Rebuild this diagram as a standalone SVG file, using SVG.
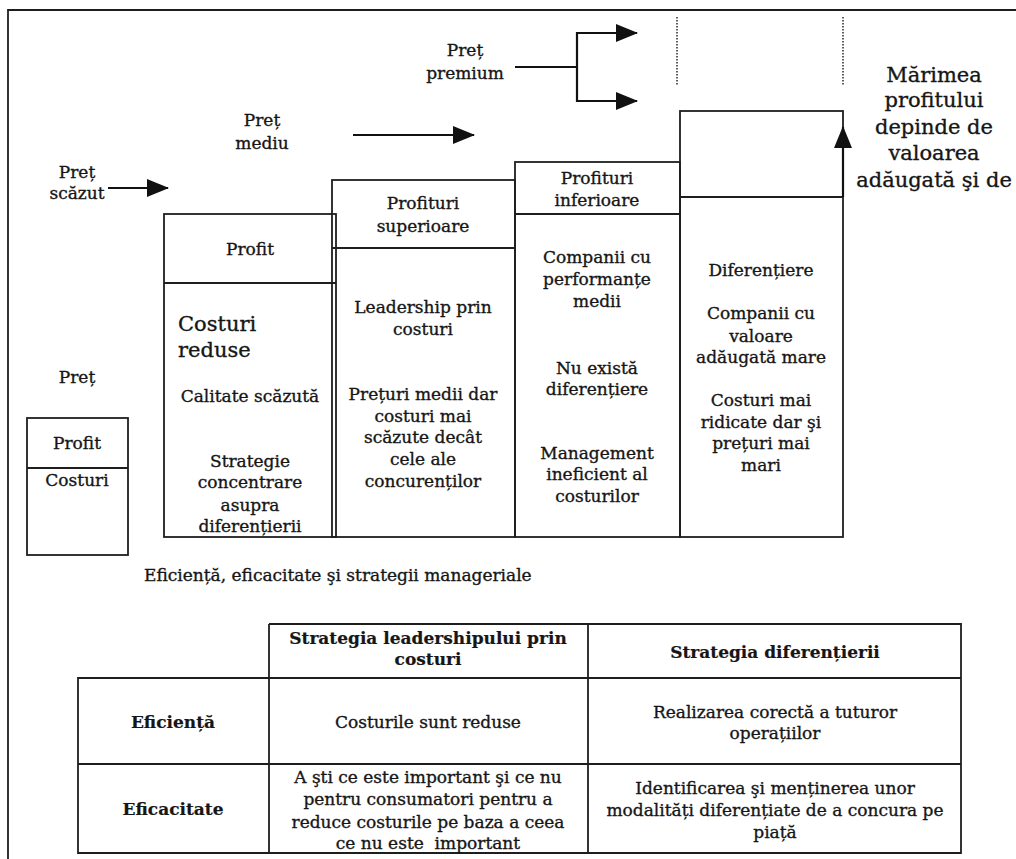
<svg xmlns="http://www.w3.org/2000/svg" width="1016" height="859" viewBox="0 0 1016 859">
  <style>
    .t { font-family: "DejaVu Serif", "Liberation Serif", serif; font-size: 17px; fill: #161616; stroke: #161616; stroke-width: 0.35; text-anchor: middle; }
    .big { font-size: 21px; }
    .cap { text-anchor: start; }
    .b { font-weight: bold; stroke-width: 0.2; }
    .box { fill: none; stroke: #1e1e1e; stroke-width: 1.8; }
    .ln { fill: none; stroke: #1e1e1e; stroke-width: 1.8; }
    .arr { fill: none; stroke: #111; stroke-width: 2.2; }
    .dot { fill: none; stroke: #333; stroke-width: 1.6; stroke-dasharray: 1.5 1.5; }
  </style>
  <defs>
    <marker id="head" markerUnits="userSpaceOnUse" markerWidth="24" markerHeight="20" refX="21" refY="9" orient="auto">
      <path d="M0,0 L22,9 L0,18 Z" fill="#111"/>
    </marker>
  </defs>

  <rect width="1016" height="859" fill="#fff"/>

  <!-- page frame -->
  <path class="ln" d="M8,859 V10 H1016"/>

  <!-- price levels -->
  <g id="pret-scazut">
    <text class="t" x="77" y="178">Preț</text>
    <text class="t" x="77" y="199">scăzut</text>
  </g>
  <g id="pret-mediu">
    <text class="t" x="262" y="126">Preț</text>
    <text class="t" x="262" y="149">mediu</text>
  </g>
  <g id="pret-premium">
    <text class="t" x="465" y="56">Preț</text>
    <text class="t" x="465" y="79">premium</text>
  </g>

  <!-- bar: low cost -->
  <g id="col-low">
    <rect class="box" x="164" y="214" width="172" height="323"/>
    <line class="ln" x1="164" y1="283" x2="336" y2="283"/>
    <text class="t" x="250" y="255">Profit</text>
    <text class="t big" x="178" y="331" style="text-anchor:start">Costuri</text>
    <text class="t big" x="178" y="357" style="text-anchor:start">reduse</text>
    <text class="t" x="250" y="402">Calitate scăzută</text>
    <text class="t" x="250" y="467">Strategie</text>
    <text class="t" x="250" y="488">concentrare</text>
    <text class="t" x="250" y="511">asupra</text>
    <text class="t" x="250" y="532">diferențierii</text>
  </g>

  <!-- bar: cost leadership -->
  <g id="col-avg">
    <rect class="box" x="332" y="180" width="183" height="357"/>
    <line class="ln" x1="332" y1="248" x2="515" y2="248"/>
    <text class="t" x="423" y="209">Profituri</text>
    <text class="t" x="423" y="232">superioare</text>
    <text class="t" x="423" y="313">Leadership prin</text>
    <text class="t" x="423" y="335">costuri</text>
    <text class="t" x="423" y="400">Prețuri medii dar</text>
    <text class="t" x="423" y="422">costuri mai</text>
    <text class="t" x="423" y="443">scăzute decât</text>
    <text class="t" x="423" y="465">cele ale</text>
    <text class="t" x="423" y="487">concurenților</text>
  </g>

  <!-- bar: average performers -->
  <g id="col-inf">
    <rect class="box" x="515" y="162" width="165" height="375"/>
    <line class="ln" x1="515" y1="214" x2="680" y2="214"/>
    <text class="t" x="597" y="184">Profituri</text>
    <text class="t" x="597" y="206">inferioare</text>
    <text class="t" x="597" y="263">Companii cu</text>
    <text class="t" x="597" y="285">performanțe</text>
    <text class="t" x="597" y="307">medii</text>
    <text class="t" x="597" y="374">Nu există</text>
    <text class="t" x="597" y="395">diferențiere</text>
    <text class="t" x="597" y="459">Management</text>
    <text class="t" x="597" y="480">ineficient al</text>
    <text class="t" x="597" y="502">costurilor</text>
  </g>

  <!-- bar: differentiation -->
  <g id="col-diff">
    <rect class="box" x="680" y="111" width="163" height="426"/>
    <line class="ln" x1="680" y1="197" x2="843" y2="197"/>
    <text class="t" x="761" y="276">Diferențiere</text>
    <text class="t" x="761" y="319">Companii cu</text>
    <text class="t" x="761" y="342">valoare</text>
    <text class="t" x="761" y="363">adăugată mare</text>
    <text class="t" x="761" y="406">Costuri mai</text>
    <text class="t" x="761" y="428">ridicate dar şi</text>
    <text class="t" x="761" y="449">prețuri mai</text>
    <text class="t" x="761" y="471">mari</text>
  </g>

  <!-- upper bound of the premium band -->
  <g id="premium-band">
    <line class="dot" x1="677" y1="17" x2="677" y2="85"/>
    <line class="dot" x1="843" y1="17" x2="843" y2="85"/>
  </g>

  <g id="note">
    <text class="t big" x="934" y="82">Mărimea</text>
    <text class="t big" x="934" y="107">profitului</text>
    <text class="t big" x="934" y="134">depinde de</text>
    <text class="t big" x="934" y="160">valoarea</text>
    <text class="t big" x="934" y="187">adăugată şi de</text>
  </g>

  <!-- reference bar -->
  <g id="pret-ref">
    <text class="t" x="77" y="383">Preț</text>
    <rect class="box" x="27" y="418" width="101" height="137"/>
    <line class="ln" x1="27" y1="468" x2="128" y2="468"/>
    <text class="t" x="77" y="449">Profit</text>
    <text class="t" x="77" y="486">Costuri</text>
  </g>

  <!-- connectors -->
  <g id="connectors">
    <path class="arr" d="M108,188 H168" marker-end="url(#head)"/>
    <path class="arr" d="M353,135 H474" marker-end="url(#head)"/>
    <path class="arr" d="M515,67 H577"/>
    <path class="arr" d="M577,67 V33 H637" marker-end="url(#head)"/>
    <path class="arr" d="M577,67 V101 H637" marker-end="url(#head)"/>
    <path class="arr" d="M843,197 V127" marker-end="url(#head)"/>
  </g>

  <text class="t cap" x="144" y="581">Eficiență, eficacitate şi strategii manageriale</text>

  <!-- strategy table -->
  <g id="table">
    <path class="ln" d="M269,624 H961 V853 H78 V678 H961 M78,764 H961 M269,624 V853 M588,624 V853"/>
    <text class="t b" x="428" y="644">Strategia leadershipului prin</text>
    <text class="t b" x="428" y="665">costuri</text>
    <text class="t b" x="775" y="658">Strategia diferențierii</text>
    <text class="t b" x="173" y="728">Eficiență</text>
    <text class="t" x="428" y="728">Costurile sunt reduse</text>
    <text class="t" x="775" y="718">Realizarea corectă a tuturor</text>
    <text class="t" x="775" y="739">operațiilor</text>
    <text class="t b" x="173" y="815">Eficacitate</text>
    <text class="t" x="428" y="783">A şti ce este important şi ce nu</text>
    <text class="t" x="428" y="805">pentru consumatori pentru a</text>
    <text class="t" x="428" y="828">reduce costurile pe baza a ceea</text>
    <text class="t" x="428" y="849" style="white-space:pre">ce nu este  important</text>
    <text class="t" x="775" y="794">Identificarea şi menținerea unor</text>
    <text class="t" x="775" y="816">modalități diferențiate de a concura pe</text>
    <text class="t" x="775" y="838">piață</text>
  </g>
</svg>
